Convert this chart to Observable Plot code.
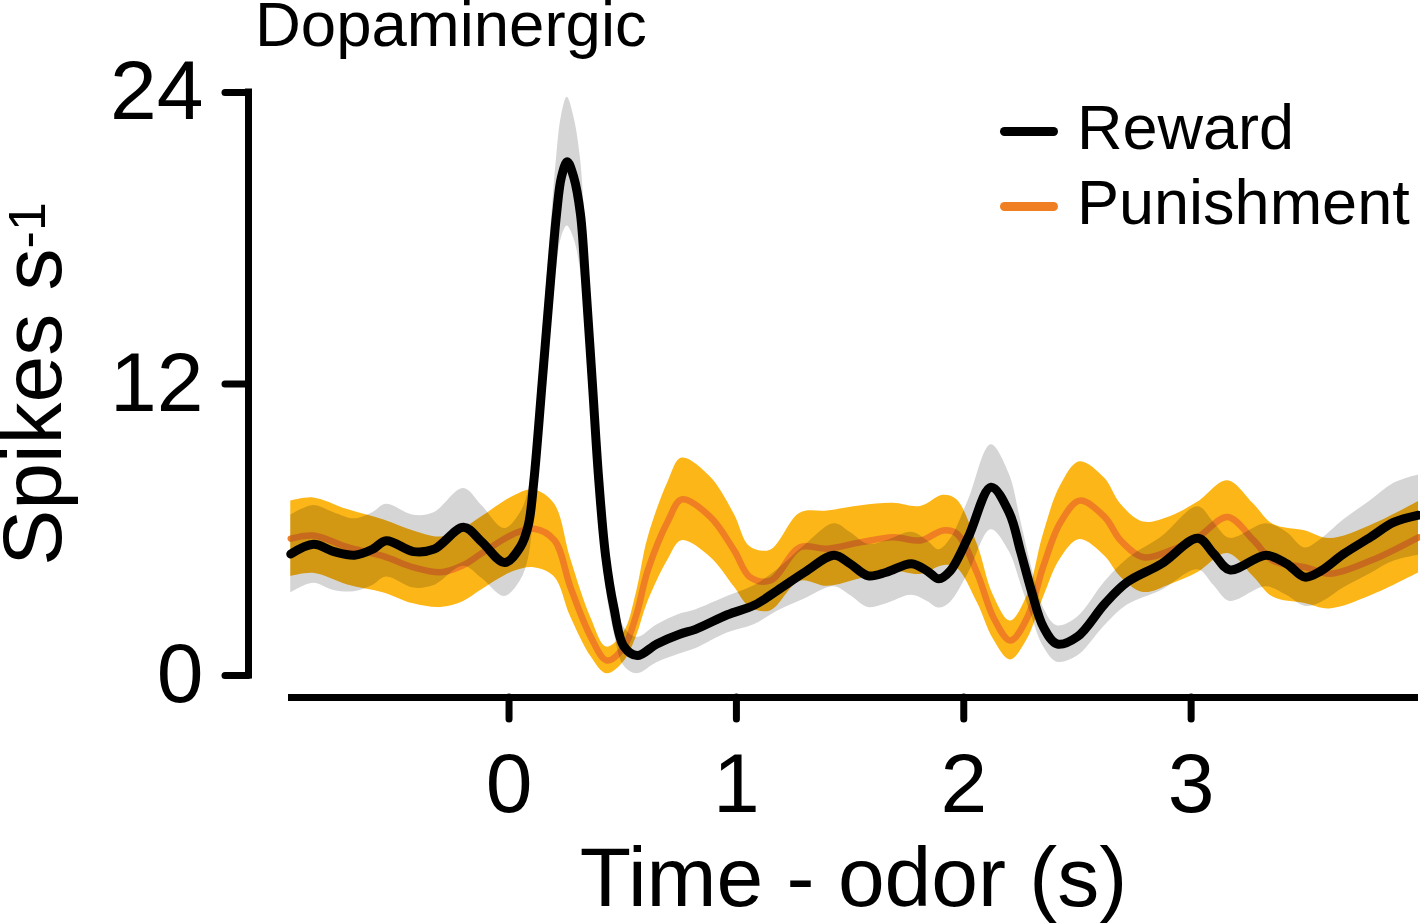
<!DOCTYPE html>
<html>
<head>
<meta charset="utf-8">
<script src="https://cdn.jsdelivr.net/npm/d3@7"></script>
<script src="https://cdn.jsdelivr.net/npm/@observablehq/plot@0.6"></script>
<style>
  html, body { margin: 0; padding: 0; background: #fff; }
  #wrap { position: relative; width: 1420px; height: 924px; overflow: hidden; font-family: "Liberation Sans", Arial, sans-serif; color: #000; }
  #title { height: 50px; line-height: 48px; font-size: 63.5px; padding-left: 255px; white-space: nowrap; }
  #legend { position: absolute; left: 1000px; top: 97px; }
  .row { display: flex; align-items: center; height: 60px; margin-bottom: 15px; font-size: 63px; line-height: 60px; white-space: nowrap; }
  .sw { width: 58px; height: 9px; border-radius: 4.5px; margin-right: 19px; position: relative; top: 4px; }
  svg { display: block; }
</style>
</head>
<body>
<div id="wrap">
  <div id="title"></div>
  <div id="chart"></div>
  <div id="legend"></div>
</div>
<script>
// ---- data ----
const titleText = "Dopaminergic";
const xLabel = "Time - odor (s)";
const yLabel = "Spikes s";
const yLabelSup = "-1";
const xDomain = [-0.97, 4.0];
const yDomain = [0, 24];
const xTicks = [0, 1, 2, 3];
const yTicks = [0, 12, 24];
const seriesNames = ["Reward", "Punishment"];
const lineColors = ["#000000", "#EF7F22"];
const bandColors = ["#D5D5D5", "#FCB617"];

const rewardTime = [-0.96,-0.86,-0.77,-0.68,-0.6,-0.54,-0.42,-0.33,-0.2,-0.12,
  -0.02,0.05,0.085,0.109,0.146,0.183,0.209,0.23,0.256,0.285,
  0.314,0.336,0.366,0.395,0.425,0.461,0.505,0.564,0.65,0.75,
  0.82,0.96,1.08,1.18,1.3,1.43,1.5,1.58,1.66,1.77,
  1.84,1.89,1.94,2.02,2.12,2.2,2.25,2.3,2.35,2.41,
  2.5,2.62,2.72,2.87,3.03,3.1,3.17,3.33,3.42,3.5,
  3.57,3.67,3.79,3.89,4.0];
const rewardRate = [5.0,5.4,5.1,4.95,5.2,5.55,5.1,5.2,6.1,5.5,
  4.65,5.3,6.2,8.0,12.1,16.3,19.0,20.5,21.15,20.5,
  19.0,16.3,12.1,8.0,4.9,2.8,1.2,0.82,1.3,1.7,
  1.9,2.5,2.9,3.5,4.25,4.95,4.6,4.1,4.25,4.6,
  4.3,3.98,4.3,5.7,7.75,6.7,5.1,3.4,2.0,1.3,
  1.6,2.95,3.85,4.6,5.65,5.0,4.35,4.95,4.6,4.05,
  4.3,5.0,5.7,6.3,6.6];
const rewardSem = [1.6,1.6,1.6,1.5,1.5,1.5,1.5,1.5,1.6,1.5,
  1.4,1.4,1.4,1.4,1.7,2.0,2.3,2.5,2.65,2.5,
  2.3,2.0,1.7,1.4,1.2,1.0,0.8,0.75,0.78,0.82,
  0.8,0.75,0.8,0.85,1.1,1.3,1.3,1.3,1.3,1.3,
  1.25,1.2,1.3,1.5,1.75,1.6,1.3,1.0,0.8,0.75,
  0.8,0.9,0.95,1.1,1.3,1.3,1.3,1.3,1.3,1.2,
  1.3,1.4,1.5,1.6,1.65];

const punishTime = [-0.96,-0.86,-0.71,-0.55,-0.42,-0.3,-0.2,-0.125,0.02,0.11,
  0.2,0.27,0.36,0.43,0.505,0.56,0.61,0.7,0.76,0.886,
  0.99,1.06,1.15,1.28,1.4,1.55,1.69,1.81,1.91,1.97,
  2.06,2.13,2.205,2.28,2.35,2.425,2.51,2.62,2.69,2.79,
  2.91,3.03,3.16,3.275,3.36,3.5,3.61,3.79,4.0];
const punishRate = [5.63,5.76,5.28,4.9,4.45,4.25,4.55,5.0,5.83,6.04,
  5.56,3.64,1.58,0.62,1.17,2.5,4.32,6.38,7.25,6.52,
  5.15,4.05,3.91,5.28,5.22,5.49,5.69,5.56,5.97,5.83,
  4.19,2.4,1.44,2.4,4.5,6.3,7.2,6.52,5.56,4.87,
  5.15,5.69,6.52,5.56,4.73,4.46,4.19,4.73,5.69];
const punishSem = [1.55,1.55,1.55,1.5,1.5,1.45,1.5,1.5,1.55,1.6,
  1.5,1.2,0.8,0.55,0.6,0.9,1.3,1.6,1.7,1.65,
  1.5,1.25,1.25,1.4,1.55,1.5,1.4,1.4,1.45,1.4,
  1.2,0.9,0.8,0.9,1.3,1.5,1.6,1.6,1.5,1.45,
  1.4,1.45,1.5,1.5,1.5,1.5,1.45,1.45,1.47];

// ---- tables ----
const rows = (T, Y, S) => T.map((t, i) => ({t, v: Y[i], lo: Y[i] - S[i], hi: Y[i] + S[i]}));
const reward = rows(rewardTime, rewardRate, rewardSem);
const punish = rows(punishTime, punishRate, punishSem);

const font = 84;
const axisOffset = 22;   // gap between frame and x axis line
const yAxisOffset = -40; // y axis line left of the frame

const svg = Plot.plot({
  width: 1420,
  height: 874,
  marginLeft: 288,
  marginRight: 2,
  marginTop: 42,
  marginBottom: 249,
  x: {domain: xDomain},
  y: {domain: yDomain},
  style: {fontFamily: "'Liberation Sans', Arial, sans-serif", overflow: "visible", background: "white"},
  marks: [
    Plot.areaY(punish, {x: "t", y1: "lo", y2: "hi", fill: bandColors[1], curve: "catmull-rom"}),
    Plot.line(punish, {x: "t", y: "v", stroke: lineColors[1], strokeWidth: 6.5, curve: "catmull-rom"}),
    Plot.areaY(reward, {x: "t", y1: "lo", y2: "hi", fill: bandColors[0], curve: "catmull-rom", mixBlendMode: "multiply"}),
    Plot.line(reward, {x: "t", y: "v", stroke: lineColors[0], strokeWidth: 9, curve: "catmull-rom"}),
    // axis lines
    Plot.ruleY([yDomain[0]], {dy: axisOffset, stroke: "#000", strokeWidth: 7}),
    Plot.ruleX([xDomain[0]], {dx: yAxisOffset, stroke: "#000", strokeWidth: 7, strokeLinecap: "square"}),
    Plot.axisX({ticks: xTicks, tickFormat: d => String(d), tickSize: 22, tickPadding: 33, dy: axisOffset,
      fontSize: font, strokeWidth: 7, strokeLinecap: "round", label: null, stroke: "#000", fill: "#000"}),
    Plot.axisY({ticks: yTicks, tickFormat: d => String(d), tickSize: 23, tickPadding: 22, dx: yAxisOffset,
      fontSize: font, strokeWidth: 7, strokeLinecap: "round", label: null, stroke: "#000", fill: "#000"}),
    Plot.text([xLabel], {frameAnchor: "bottom", dy: 230, lineAnchor: "bottom", fontSize: font, fill: "#000"}),
    Plot.text([yLabel], {frameAnchor: "left", dx: -228, rotate: -90, lineAnchor: "bottom", textAnchor: "middle", fontSize: font, fill: "#000"})
  ]
});

// superscript on the y label
const yl = Array.from(svg.querySelectorAll("text")).find(t => t.textContent === yLabel);
if (yl) {
  const ts = document.createElementNS("http://www.w3.org/2000/svg", "tspan");
  ts.setAttribute("dy", "-16");
  ts.setAttribute("font-size", "52");
  ts.textContent = yLabelSup;
  yl.appendChild(ts);
}

document.getElementById("chart").appendChild(svg);
document.getElementById("title").textContent = titleText;

const legend = document.getElementById("legend");
seriesNames.forEach((name, i) => {
  const row = document.createElement("div");
  row.className = "row";
  const sw = document.createElement("div");
  sw.className = "sw";
  sw.style.background = lineColors[i];
  const tx = document.createElement("span");
  tx.textContent = name;
  row.appendChild(sw);
  row.appendChild(tx);
  legend.appendChild(row);
});
</script>
</body>
</html>
